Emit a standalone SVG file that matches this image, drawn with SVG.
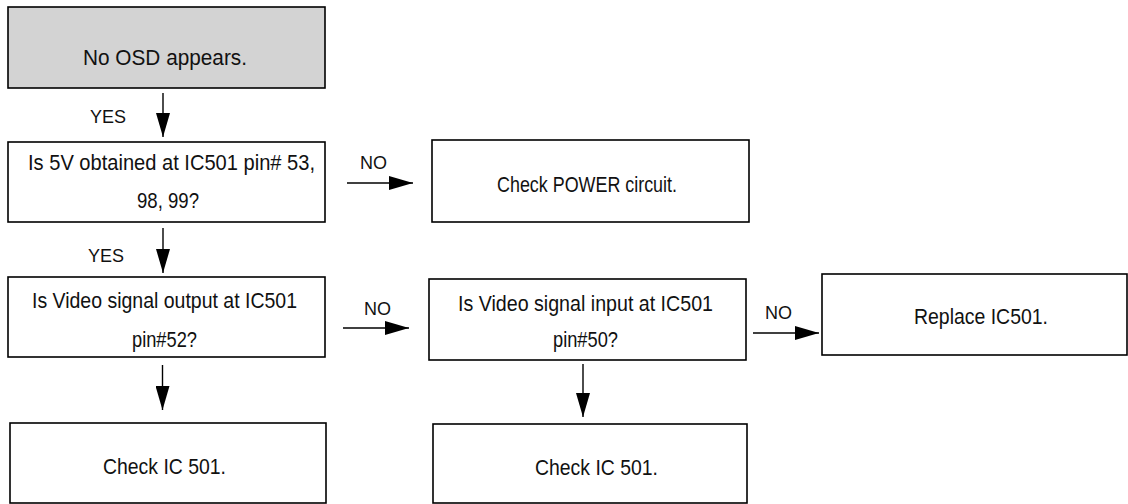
<svg xmlns="http://www.w3.org/2000/svg" width="1128" height="504" viewBox="0 0 1128 504">
<style>
.box{fill:#fff;stroke:#000;stroke-width:1.6}
.start{fill:#d3d3d3;stroke:#000;stroke-width:1.6}
.t{font-family:"Liberation Sans",Arial,sans-serif;font-size:22px;fill:#111;text-anchor:middle}
.lbl{font-family:"Liberation Sans",Arial,sans-serif;font-size:18px;fill:#111}
.c{stroke:#000;stroke-width:1.4;fill:none;marker-end:url(#ah)}
</style>
<defs>
<marker id="ah" markerUnits="userSpaceOnUse" markerWidth="24" markerHeight="14" refX="24" refY="7" orient="auto">
<path d="M0,0 L24,7 L0,14 z" fill="#000"/>
</marker>
</defs>
<rect width="1128" height="504" fill="#fff"/>
<g id="connectors">
<line class="c" x1="163" y1="93" x2="163" y2="137"/>
<line class="c" x1="163" y1="228" x2="163" y2="273"/>
<line class="c" x1="162.5" y1="365" x2="162.5" y2="410"/>
<line class="c" x1="347" y1="183" x2="413" y2="183"/>
<line class="c" x1="343" y1="328" x2="409" y2="328"/>
<line class="c" x1="753" y1="333" x2="819" y2="333"/>
<line class="c" x1="583" y1="364" x2="583" y2="417"/>
<text class="lbl" x="90" y="123">YES</text>
<text class="lbl" x="88" y="262">YES</text>
<text class="lbl" x="360" y="169">NO</text>
<text class="lbl" x="364" y="315">NO</text>
<text class="lbl" x="765" y="319">NO</text>
</g>
<g id="n1">
<rect class="start" x="8" y="7" width="317" height="81"/>
<text class="t" x="165" y="65" textLength="164" lengthAdjust="spacingAndGlyphs">No OSD appears.</text>
</g>
<g id="n2">
<rect class="box" x="8" y="142" width="317" height="80"/>
<text class="t" x="171.5" y="170" textLength="287" lengthAdjust="spacingAndGlyphs">Is 5V obtained at IC501 pin# 53,</text>
<text class="t" x="168" y="208" textLength="62" lengthAdjust="spacingAndGlyphs">98, 99?</text>
</g>
<g id="n3">
<rect class="box" x="432" y="140" width="317" height="82"/>
<text class="t" x="587" y="192" textLength="180" lengthAdjust="spacingAndGlyphs">Check POWER circuit.</text>
</g>
<g id="n4">
<rect class="box" x="8" y="277" width="317" height="80"/>
<text class="t" x="164.5" y="308" textLength="265" lengthAdjust="spacingAndGlyphs">Is Video signal output at IC501</text>
<text class="t" x="164.5" y="347" textLength="65" lengthAdjust="spacingAndGlyphs">pin#52?</text>
</g>
<g id="n5">
<rect class="box" x="429" y="279" width="317" height="81"/>
<text class="t" x="585.5" y="311" textLength="255" lengthAdjust="spacingAndGlyphs">Is Video signal input at IC501</text>
<text class="t" x="585.5" y="347" textLength="65" lengthAdjust="spacingAndGlyphs">pin#50?</text>
</g>
<g id="n6">
<rect class="box" x="822" y="274" width="305" height="81"/>
<text class="t" x="981" y="324" textLength="134" lengthAdjust="spacingAndGlyphs">Replace IC501.</text>
</g>
<g id="n7">
<rect class="box" x="10" y="423" width="316" height="80"/>
<text class="t" x="164.5" y="474" textLength="123" lengthAdjust="spacingAndGlyphs">Check IC 501.</text>
</g>
<g id="n8">
<rect class="box" x="433" y="424" width="314" height="79"/>
<text class="t" x="596.5" y="475" textLength="123" lengthAdjust="spacingAndGlyphs">Check IC 501.</text>
</g>
</svg>
